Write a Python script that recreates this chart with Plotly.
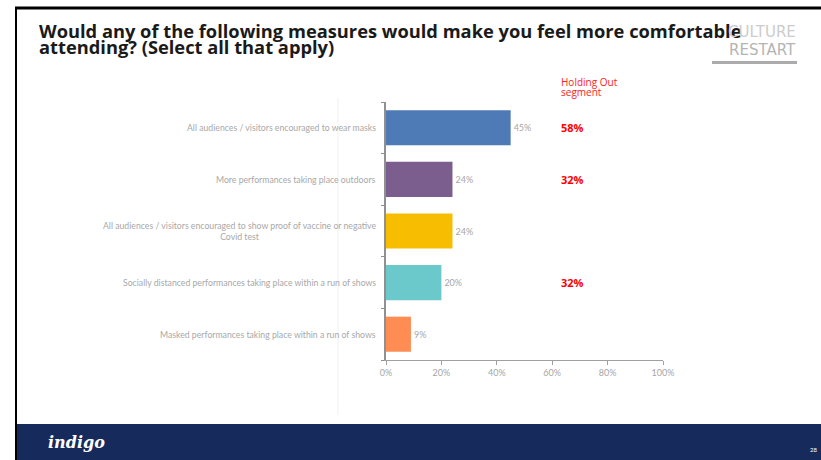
import plotly.graph_objects as go

# Survey data
categories = [
    "All audiences / visitors encouraged to wear masks",
    "More performances taking place outdoors",
    "All audiences / visitors encouraged to show proof of vaccine or negative<br>Covid test",
    "Socially distanced performances taking place within a run of shows",
    "Masked performances taking place within a run of shows",
]
all_values = [45, 24, 24, 20, 9]
holding_out = [58, 32, None, 32, None]
bar_colors = ["#4e7ab5", "#7b5e8e", "#f7bd00", "#6bc9cc", "#ff8c52"]
x_ticks = [0, 20, 40, 60, 80, 100]
title_lines = [
    "Would any of the following measures would make you feel more comfortable",
    "attending? (Select all that apply)",
]
segment_lines = ["Holding Out", "segment"]

W, H = 821, 460
L, R, T, B = 386, 663, 102, 360


def px_x(x):
    return (x - L) / (R - L)


def px_y(y):
    return (B - y) / (B - T)


fig = go.Figure()
fig.add_trace(go.Bar(
    x=all_values,
    y=list(range(len(categories))),
    orientation="h",
    marker=dict(color=bar_colors, line=dict(width=0)),
    width=0.68,
    text=[f"{v}%" for v in all_values],
    textposition="outside",
    textfont=dict(family="Lato", size=9, color="#a6a6a6"),
    cliponaxis=False,
    hoverinfo="skip",
))

annotations = []
# Category labels
for i, c in enumerate(categories):
    annotations.append(dict(
        x=px_x(378), xref="paper", y=i, yref="y",
        text=c, showarrow=False, xanchor="right", align="center",
        font=dict(family="Lato", size=8.7, color="#a8a8a8"),
    ))
# Holding Out segment values
for i, v in enumerate(holding_out):
    if v is not None:
        annotations.append(dict(
            x=px_x(559), xref="paper", y=i, yref="y",
            text=f"<b>{v}%</b>", showarrow=False, xanchor="left",
            font=dict(family="Open Sans", size=11, color="#ff0000"),
        ))
for line, yc in zip(segment_lines, [82, 92]):
    annotations.append(dict(
        x=px_x(559), y=px_y(yc), xref="paper", yref="paper",
        text=line, showarrow=False, xanchor="left", yanchor="middle",
        font=dict(family="Open Sans", size=10, color="#ff2020"),
    ))

# Title, two tightly spaced lines
for line, yc in zip(title_lines, [30.5, 46.5]):
    annotations.append(dict(
        x=px_x(37), y=px_y(yc), xref="paper", yref="paper",
        text=f"<b>{line}</b>", showarrow=False, xanchor="left", yanchor="middle",
        font=dict(family="Open Sans", size=18.3, color="#1a1a1a"),
    ))

# Logo and footer text
annotations += [
    dict(x=px_x(798), y=px_y(32), xref="paper", yref="paper",
         text="CULTURE", showarrow=False, xanchor="right", yanchor="middle",
         font=dict(family="DejaVu Sans", size=15, color="#cccccc")),
    dict(x=px_x(798), y=px_y(50), xref="paper", yref="paper",
         text="RESTART", showarrow=False, xanchor="right", yanchor="middle",
         font=dict(family="DejaVu Sans", size=15, color="#b4b4b4")),
    dict(x=px_x(46), y=px_y(442), xref="paper", yref="paper",
         text="<b><i>indigo</i></b>", showarrow=False, xanchor="left", yanchor="middle",
         font=dict(family="DejaVu Serif", size=16, color="#ffffff")),
    dict(x=px_x(819), y=px_y(449), xref="paper", yref="paper",
         text="28", showarrow=False, xanchor="right", yanchor="middle",
         font=dict(family="Lato", size=6, color="#ffffff")),
]

shapes = [
    # footer band
    dict(type="rect", xref="paper", yref="paper",
         x0=px_x(17), x1=px_x(W + 5), y0=px_y(424), y1=px_y(H + 5),
         fillcolor="#172a5c", line=dict(width=0), layer="below"),
    # frame lines
    dict(type="line", xref="paper", yref="paper",
         x0=px_x(15), x1=px_x(W + 5), y0=px_y(8), y1=px_y(8),
         line=dict(color="#000000", width=3)),
    dict(type="line", xref="paper", yref="paper",
         x0=px_x(16), x1=px_x(16), y0=px_y(8), y1=px_y(H + 5),
         line=dict(color="#000000", width=2)),
    # faint divider
    dict(type="line", xref="paper", yref="paper",
         x0=px_x(338), x1=px_x(338), y0=px_y(98), y1=px_y(415),
         line=dict(color="#f0f0f0", width=1), layer="below"),
    # logo underline
    dict(type="rect", xref="paper", yref="paper",
         x0=px_x(712), x1=px_x(797), y0=px_y(64), y1=px_y(61),
         fillcolor="#ababab", line=dict(width=0)),
]

fig.update_layout(
    width=W, height=H,
    margin=dict(l=L, r=W - R, t=T, b=H - B, pad=0),
    paper_bgcolor="#ffffff", plot_bgcolor="#ffffff",
    showlegend=False,
    annotations=annotations,
    shapes=shapes,
    xaxis=dict(
        range=[0, 100], tickvals=x_ticks, ticktext=[f"{v}%" for v in x_ticks],
        showgrid=False, zeroline=False, showline=True, linecolor="#a0a0a0", linewidth=1,
        ticks="outside", ticklen=4, tickcolor="#a0a0a0",
        tickfont=dict(family="Lato", size=9, color="#a6a6a6"),
    ),
    yaxis=dict(
        range=[4.5, -0.5], tickvals=[-0.5, 0.5, 1.5, 2.5, 3.5, 4.5],
        showticklabels=False, showgrid=False, zeroline=False,
        showline=True, linecolor="#909090", linewidth=2,
        ticks="outside", ticklen=3, tickcolor="#909090",
    ),
)

fig.write_html("out.html")
